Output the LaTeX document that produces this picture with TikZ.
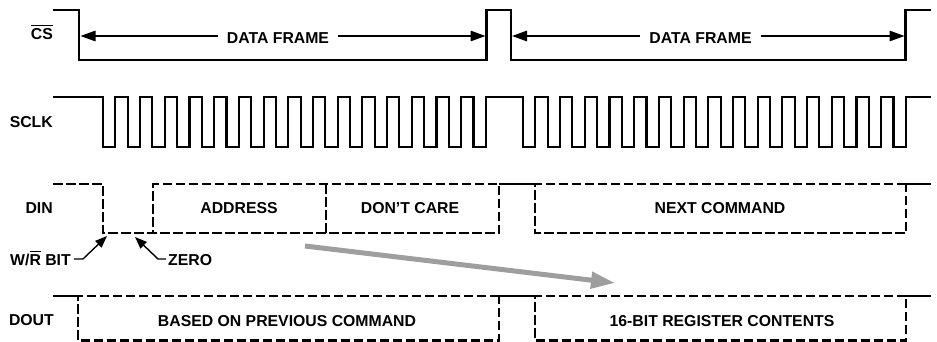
\documentclass[tikz,border=0pt]{standalone}
\usepackage{fontspec}
\setmainfont{Liberation Sans}
\usetikzlibrary{arrows.meta}
\definecolor{arrgray}{RGB}{158,158,158}
\newcommand{\ovbar}[1]{\leavevmode\vbox{\hrule height 1.2pt\kern 2.3pt\hbox{#1}}}
\begin{document}
\begin{tikzpicture}[x=1pt,y=-1pt,
  wave/.style={line width=2.1pt, line join=miter, line cap=butt},
  dwave/.style={wave, dash pattern=on 9.5pt off 3.5pt},
  lbl/.style={font=\fontsize{15.8}{18}\selectfont\bfseries, inner sep=0pt},
  dimarrow/.style={line width=1.4pt, -{Triangle[length=15pt,width=10.5pt]}},
  ptr/.style={line width=1.4pt, line join=round, -{Triangle[length=12pt,width=9pt]}},
  grayarrow/.style={line width=5pt, draw=arrgray, -{Triangle[length=24pt,width=16pt]}}]
\useasboundingbox (0,0) rectangle (937,342);

% CS
\draw[wave] (53,10) -- (79,10) -- (79,60) -- (486.5,60) -- (486.5,10) -- (511,10) -- (511,60) -- (905.5,60) -- (905.5,10) -- (931,10);
\coordinate (cs1a) at (80.5,36);
\coordinate (cs1b) at (485.5,36);
\coordinate (cs2a) at (512,36);
\coordinate (cs2b) at (904.5,36);
\node[lbl, inner xsep=9pt, anchor=base] (df1) at (278,44) {DATA FRAME};
\node[lbl, inner xsep=9.5pt, anchor=base] (df2) at (700.5,44) {DATA FRAME};
\draw[dimarrow] (df1.west |- cs1a) -- (cs1a);
\draw[dimarrow] (df1.east |- cs1b) -- (cs1b);
\draw[dimarrow] (df2.west |- cs2a) -- (cs2a);
\draw[dimarrow] (df2.east |- cs2b) -- (cs2b);

% SCLK
\draw[wave] (53,97) -- (103,97)
  foreach \k in {1,...,16} { -- ++(0,50) -- ++(12.4,0) -- ++(0,-50) -- ++(12.3,0) }
  -- (523,97)
  foreach \k in {1,...,16} { -- ++(0,50) -- ++(12.4,0) -- ++(0,-50) -- ++(12.3,0) }
  -- (931,97);

% DIN
\draw[dwave] (53,184) -- (103,184) -- (103,233) -- (499,233) -- (499,184) -- (153,184) -- (153,233);
\draw[dwave] (326,184) -- (326,233);
\draw[wave] (499,184) -- (535,184);
\draw[dwave] (906,184) -- (535,184) -- (535,233) -- (906,233) -- (906,184);
\draw[wave] (906,184) -- (931,184);

% DOUT
\draw[wave] (53,296) -- (78,296);
\draw[dwave] (499,296) -- (78,296) -- (78,340.5) -- (499,340.5) -- (499,296);
\draw[wave] (499,296) -- (535,296);
\draw[dwave] (906,296) -- (535,296) -- (535,340.5) -- (906,340.5) -- (906,296);
\draw[wave] (906,296) -- (931,296);

% labels
\node[lbl, anchor=base east] (cs) at (53,39.5) {\ovbar{CS}};
\node[lbl, anchor=base east] (sclk) at (53,128) {SCLK};
\node[lbl, anchor=base east] (din) at (53,213) {DIN};
\node[lbl, anchor=base west] (wr) at (10,265) {W/\ovbar{R} BIT};
\node[lbl, anchor=base west] (zero) at (168,265) {ZERO};
\node[lbl, anchor=base east] (dout) at (54,325) {DOUT};
\node[lbl, anchor=base] (addr) at (239,213) {ADDRESS};
\node[lbl, anchor=base] (dc) at (410,213) {DON’T CARE};
\node[lbl, anchor=base] (nc) at (720,213) {NEXT COMMAND};
\node[lbl, anchor=base] (prev) at (287,326) {BASED ON PREVIOUS COMMAND};
\node[lbl, anchor=base] (reg) at (722,326) {16-BIT REGISTER CONTENTS};

% pointers
\coordinate (wrtip) at (107,236);
\coordinate (zerotip) at (135,237);
\draw[ptr] ([shift={(3,-6)}]wr.base east) -- ++(9,0) -- (wrtip);
\draw[ptr] ([shift={(-2,-6)}]zero.base west) -- ++(-8,0) -- (zerotip);

% gray arrow
\coordinate (ga) at (305,246);
\coordinate (gb) at (615,283);
\draw[grayarrow] (ga) -- (gb);
\end{tikzpicture}
\end{document}
